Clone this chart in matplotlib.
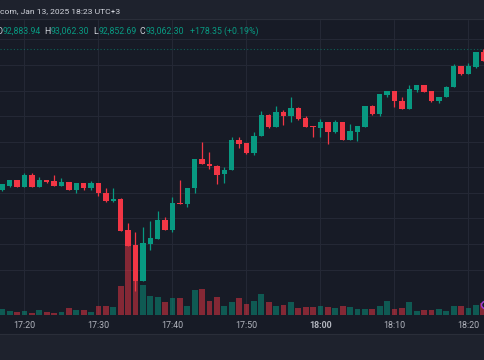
import matplotlib
matplotlib.use("Agg")
import matplotlib.pyplot as plt
from matplotlib.transforms import blended_transform_factory
from matplotlib.patches import Rectangle, Circle

# ---------------- data ----------------
start_time = "17:17"
opens = [92511, 92528, 92550, 92524, 92569, 92524, 92550, 92546, 92527, 92541,
         92511, 92537, 92518, 92537, 92500, 92467, 92477, 92354, 92295, 92155,
         92301, 92320, 92392, 92354, 92459, 92455, 92518, 92632, 92613, 92606,
         92572, 92589, 92707, 92694, 92657, 92722, 92803, 92759, 92816, 92801,
         92833, 92792, 92760, 92755, 92777, 92739, 92777, 92707, 92739, 92759,
         92839, 92807, 92883, 92898, 92859, 92828, 92902, 92922, 92898, 92858,
         92874, 92914, 92996, 92966, 92993, 93051]
highs = [92535, 92551, 92551, 92579, 92576, 92562, 92551, 92570, 92558, 92542,
         92538, 92538, 92547, 92538, 92518, 92518, 92478, 92383, 92345, 92367,
         92390, 92429, 92404, 92482, 92550, 92520, 92634, 92699, 92660, 92607,
         92601, 92717, 92717, 92695, 92738, 92819, 92808, 92840, 92824, 92875,
         92834, 92801, 92761, 92788, 92778, 92785, 92778, 92769, 92762, 92840,
         92842, 92886, 92899, 92899, 92874, 92923, 92923, 92923, 92899, 92876,
         92916, 93004, 92997, 93007, 93052, 93062]
lows = [92509, 92524, 92523, 92523, 92523, 92523, 92537, 92526, 92526, 92510,
        92498, 92511, 92511, 92489, 92466, 92466, 92351, 92292, 92117, 92154,
        92276, 92319, 92353, 92348, 92455, 92446, 92498, 92611, 92592, 92533,
        92537, 92588, 92677, 92652, 92649, 92721, 92755, 92758, 92767, 92777,
        92785, 92757, 92717, 92720, 92692, 92733, 92706, 92706, 92704, 92758,
        92806, 92801, 92876, 92837, 92827, 92827, 92896, 92895, 92857, 92850,
        92873, 92913, 92960, 92965, 92987, 93016]
closes = [92533, 92550, 92524, 92569, 92524, 92550, 92544, 92527, 92542, 92511,
          92537, 92518, 92537, 92500, 92467, 92476, 92352, 92293, 92155, 92305,
          92323, 92392, 92354, 92460, 92456, 92519, 92633, 92612, 92605, 92570,
          92589, 92707, 92692, 92657, 92723, 92803, 92759, 92816, 92801, 92833,
          92789, 92758, 92758, 92777, 92739, 92777, 92707, 92743, 92761, 92839,
          92807, 92885, 92898, 92858, 92828, 92905, 92922, 92896, 92858, 92875,
          92915, 92996, 92966, 92996, 93051, 93017]
volumes = [11.4, 7.4, 6, 7.4, 4.6, 10, 6, 4, 6, 14,
           9.4, 10, 6, 17.4, 18, 16, 58, 148, 126.6, 59.4,
           38, 36.6, 26, 34.6, 33.4, 18, 49.4, 51.4, 27.4, 35.4,
           18, 26, 34, 22, 27.4, 42, 26, 17.4, 19.4, 26,
           14, 15.4, 15.4, 17.4, 15.4, 14, 18, 15.4, 12, 12.6,
           12.6, 17.4, 28.6, 12.6, 14, 25.4, 8, 10, 9.4, 11.4,
           8, 18, 17.4, 14, 20.6, 23.4]
tick_labels = ["17:20", "17:30", "17:40", "17:50", "18:00", "18:10", "18:20"]
price_grid = [92200, 92300, 92400, 92500, 92600, 92700, 92800, 92900, 93000, 93100]
last_price = 93062.30
header_line = "com, Jan 13, 2025 18:23 UTC+3"
ohlc_labels = ["O", "H", "L", "C"]
ohlc_values = ["92,883.94", "93,062.30", "92,852.69", "93,062.30"]
change_text = "+178.35 (+0.19%)"

# ---------------- style ----------------
BG = "#171b26"
BAND = "#1e222d"
GRID = "#242835"
UP = "#089981"
DOWN = "#f23645"
TXT = "#d1d4dc"
AXT = "#b2b5be"
FONT = ["Roboto", "DejaVu Sans"]

W, H = 485, 360
fig = plt.figure(figsize=(W / 100, H / 100), dpi=100, facecolor=BG)

pane_top, pane_bot = 19, 315
rect = [0, 1 - pane_bot / H, 1, (pane_bot - pane_top) / H]

axv = fig.add_axes(rect, zorder=0)
ax = fig.add_axes(rect, zorder=1)
axv.set_facecolor(BG)
ax.set_facecolor("none")

n = len(opens)
xs = list(range(n))
xlim = (-0.31, 65.23)
for a in (ax, axv):
    a.set_xlim(*xlim)
    for s in a.spines.values():
        s.set_visible(False)
    a.tick_params(length=0)
ax.set_ylim(92022.0, 93180.0)
axv.set_ylim(0, 592)
axv.set_yticks([])
ax.set_yticks([])
axv.set_xticks([])

# x tick positions from times
def minutes(t):
    h, m = t.split(":")
    return int(h) * 60 + int(m)
tick_pos = [minutes(t) - minutes(start_time) for t in tick_labels]

# grid (behind volume)
blend = blended_transform_factory(axv.transAxes, ax.transData)
for p in price_grid:
    axv.plot([0, 1], [p, p], transform=blend, color=GRID, lw=0.8, zorder=0)
for tp in tick_pos:
    axv.axvline(tp, color=GRID, lw=0.8, zorder=0)

# volume
vcols = [(8/255, 153/255, 129/255, 0.5) if c >= o else (242/255, 54/255, 69/255, 0.5)
         for o, c in zip(opens, closes)]
axv.bar(xs, volumes, width=0.78, color=vcols, linewidth=0, zorder=2)

# candles
cols = [UP if c >= o else DOWN for o, c in zip(opens, closes)]
ax.vlines(xs, lows, highs, colors=cols, lw=0.9, zorder=3)
bottoms = [min(o, c) for o, c in zip(opens, closes)]
heights = [max(abs(c - o), 4) for o, c in zip(opens, closes)]
ax.bar(xs, heights, bottom=bottoms, width=0.72, color=cols, linewidth=0, zorder=4)

# last price line
ax.axhline(last_price, color=UP, alpha=0.55, lw=0.8, ls=(0, (1, 2)), zorder=2)

# x tick labels
ax.set_xticks(tick_pos)
ax.set_xticklabels(tick_labels)
ax.tick_params(axis="x", colors=AXT, labelsize=6.4, pad=4.5)
for lab in ax.get_xticklabels():
    lab.set_family(FONT)
    if lab.get_text().endswith(":00"):
        lab.set_fontweight("bold")

# bands
fig.patches.append(Rectangle((0, 1 - pane_top / H), 1, pane_top / H,
                             transform=fig.transFigure, color=BAND, zorder=0))
fig.add_artist(plt.Line2D([0, 1], [1 - pane_top / H] * 2, transform=fig.transFigure,
                          color="#2a2e39", lw=0.8))
fig.patches.append(Rectangle((0, 0), 1, (H - 334) / H,
                             transform=fig.transFigure, color=BAND, zorder=0))
fig.add_artist(plt.Line2D([0, 1], [(H - 334) / H] * 2, transform=fig.transFigure,
                          color="#2a2e39", lw=0.8))

# purple marker at right edge
circ = Circle((487 / W, 1 - 305 / H), 5.5 / W, transform=fig.transFigure,
              facecolor=BG, edgecolor="#9c3fd0", lw=1.1, zorder=5)
fig.add_artist(circ)

# header texts
def ftext(x, y, s, color, ha="left", size=6.3, **kw):
    fig.text(x / W, 1 - y / H, s, color=color, family=FONT, fontsize=size,
             va="center", ha=ha, **kw)

ftext(0, 11, header_line, TXT, size=6.1)
val_x = [2.7, 50.7, 98.7, 145.7]
for vx, l, v in zip(val_x, ohlc_labels, ohlc_values):
    ftext(vx - 0.2, 31, l, TXT, ha="right", size=6.3)
    ftext(vx, 31, v, UP)
ftext(190, 31, change_text, UP)

fig.savefig("out.png", dpi=100, facecolor=BG)
